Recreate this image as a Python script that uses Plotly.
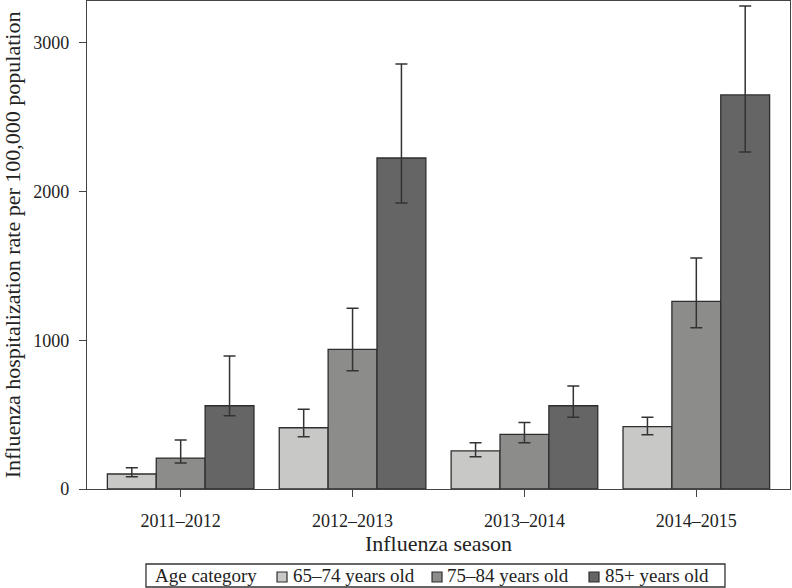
import plotly.graph_objects as go

seasons = ["2011–2012", "2012–2013", "2013–2014", "2014–2015"]
age_groups = ["65–74 years old", "75–84 years old", "85+ years old"]
rate_65_74 = [101, 412, 256, 419]
rate_75_84 = [208, 939, 368, 1262]
rate_85_plus = [560, 2226, 560, 2650]
upper_65_74 = [143, 536, 311, 482]
upper_75_84 = [330, 1215, 448, 1553]
upper_85_plus = [894, 2858, 693, 3248]
lower_65_74 = [83, 352, 217, 365]
lower_75_84 = [175, 796, 311, 1085]
lower_85_plus = [493, 1923, 482, 2266]
colors = ["#c8c9c6", "#8c8c8a", "#656565"]
legend_title = "Age category"

series = [
    (rate_65_74, upper_65_74, lower_65_74),
    (rate_75_84, upper_75_84, lower_75_84),
    (rate_85_plus, upper_85_plus, lower_85_plus),
]

font_family = "Liberation Serif, Times New Roman, serif"
fig = go.Figure()
for name, color, (vals, up, lo) in zip(age_groups, colors, series):
    fig.add_trace(go.Bar(
        x=seasons, y=vals, name=name,
        marker=dict(color=color, line=dict(color="#2e2e2e", width=1.3)),
        error_y=dict(type="data", symmetric=False,
                     array=[u - v for u, v in zip(up, vals)],
                     arrayminus=[v - l for v, l in zip(vals, lo)],
                     color="#333333", thickness=1.5, width=6),
    ))

# Boxed legend drawn below the plot (paper coordinates)
box = dict(x0=0.0839, x1=0.9075, y0=-0.2008, y1=-0.1537)
text_y = -0.1773
square_x0 = [0.2703, 0.4908, 0.7141]
label_x0 = [0.2902, 0.5092, 0.7340]
sq_w = 0.0142
shapes = [dict(type="rect", xref="paper", yref="paper", **box,
               line=dict(color="#333333", width=1.3), fillcolor="white", layer="above")]
annotations = [dict(text=legend_title, xref="paper", yref="paper", x=0.0939, y=text_y,
                    xanchor="left", yanchor="middle", showarrow=False,
                    font=dict(size=19))]
for name, color, sx, lx in zip(age_groups, colors, square_x0, label_x0):
    shapes.append(dict(type="rect", xref="paper", yref="paper",
                       x0=sx, x1=sx + sq_w, y0=-0.1906, y1=-0.1701,
                       line=dict(color="#2e2e2e", width=1.2), fillcolor=color, layer="above"))
    annotations.append(dict(text=name, xref="paper", yref="paper", x=lx, y=text_y,
                            xanchor="left", yanchor="middle", showarrow=False,
                            font=dict(size=19)))

fig.update_layout(
    width=792, height=588,
    margin=dict(l=87, r=2, t=1, b=99, autoexpand=False),
    paper_bgcolor="white", plot_bgcolor="white",
    barmode="group", bargap=0.147, bargroupgap=0,
    font=dict(family=font_family, size=18, color="#222222"),
    showlegend=False,
    shapes=shapes, annotations=annotations,
)
fig.update_xaxes(
    range=[-0.545, 3.545], showline=True, linecolor="#444444", linewidth=1.3,
    mirror=True, ticks="outside", ticklen=7, tickcolor="#444444",
    ticklabelstandoff=8, automargin=False,
    title=dict(text="Influenza season", standoff=0),
)
fig.update_yaxes(
    range=[0, 3282], showline=True, linecolor="#444444", linewidth=1.3,
    mirror=True, ticks="outside", ticklen=7, tickcolor="#444444",
    ticklabelstandoff=6, automargin=False,
    tickvals=[0, 1000, 2000, 3000], showgrid=False, zeroline=False,
    title=dict(text="Influenza hospitalization rate per 100,000 population", standoff=12),
)
fig.write_html("out.html", config={"displayModeBar": False},
               post_script="document.body.style.margin='0';document.body.style.overflow='hidden';")
